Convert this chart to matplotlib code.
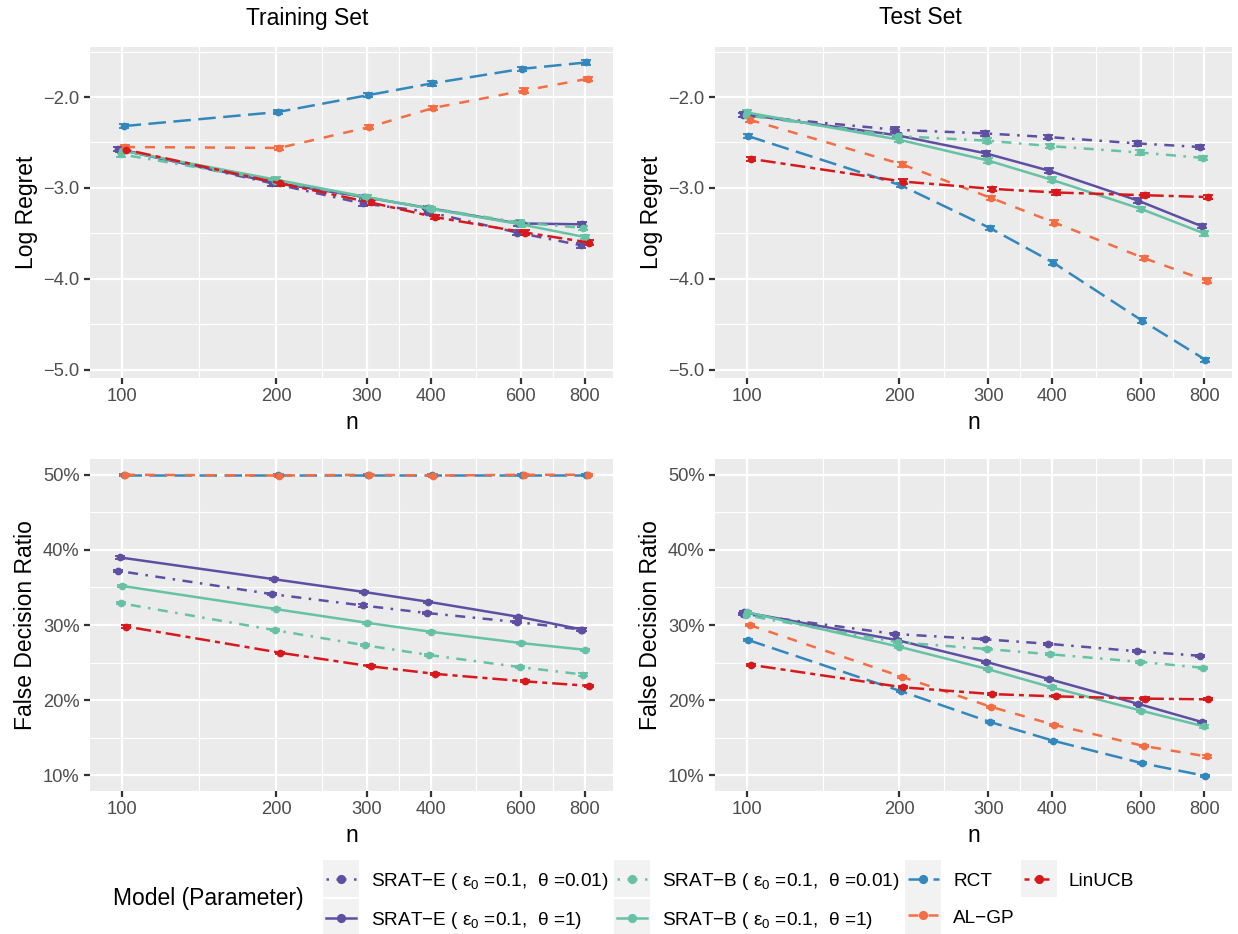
import numpy as np
import matplotlib
matplotlib.use('Agg')
import matplotlib.pyplot as plt
from matplotlib.lines import Line2D
from matplotlib.patches import Rectangle
from matplotlib.ticker import FixedLocator, NullFormatter

plt.rcParams['font.family'] = ['Liberation Sans', 'DejaVu Sans']
plt.rcParams['mathtext.fontset'] = 'custom'
plt.rcParams['mathtext.rm'] = 'Liberation Sans'
plt.rcParams['mathtext.it'] = 'Liberation Sans'

# === DATA === #
n = [100, 200, 300, 400, 600, 800]

labels = [r"SRAT−E ( $ε_0$ =0.1,  θ =0.01)",
          r"SRAT−E ( $ε_0$ =0.1,  θ =1)",
          r"SRAT−B ( $ε_0$ =0.1,  θ =0.01)",
          r"SRAT−B ( $ε_0$ =0.1,  θ =1)",
          "RCT",
          "AL−GP",
          "LinUCB"]
colors = ['#5E4FA2', '#5E4FA2', '#66C2A5', '#66C2A5', '#3288BD', '#F46D43', '#D7191C']
styles = [(0, (1, 3, 4, 3)), '-', (0, (1, 3, 4, 3)), '-', (0, (7, 3)), (0, (4, 4)), (0, (2, 2, 6, 2))]

# order: SRAT-E 0.01, SRAT-E 1, SRAT-B 0.01, SRAT-B 1, RCT, AL-GP, LinUCB
train_regret = [[-2.57, -2.95, -3.17, -3.26, -3.49, -3.63],
                [-2.58, -2.94, -3.10, -3.22, -3.39, -3.40],
                [-2.63, -2.92, -3.10, -3.22, -3.38, -3.44],
                [-2.59, -2.91, -3.10, -3.23, -3.40, -3.54],
                [-2.32, -2.165, -1.98, -1.85, -1.69, -1.62],
                [-2.55, -2.56, -2.33, -2.12, -1.93, -1.80],
                [-2.58, -2.95, -3.16, -3.32, -3.49, -3.60]]

test_regret = [[-2.20, -2.36, -2.40, -2.44, -2.51, -2.55],
               [-2.19, -2.42, -2.62, -2.81, -3.14, -3.42],
               [-2.20, -2.43, -2.48, -2.54, -2.61, -2.67],
               [-2.17, -2.47, -2.70, -2.91, -3.23, -3.50],
               [-2.43, -2.97, -3.44, -3.82, -4.46, -4.89],
               [-2.25, -2.74, -3.11, -3.38, -3.77, -4.02],
               [-2.68, -2.93, -3.01, -3.05, -3.08, -3.10]]

train_fdr = [[37.2, 34.1, 32.6, 31.6, 30.4, 29.4],
             [39.0, 36.1, 34.4, 33.1, 31.1, 29.4],
             [32.9, 29.3, 27.3, 26.0, 24.4, 23.4],
             [35.2, 32.1, 30.3, 29.1, 27.6, 26.7],
             [50.0, 50.0, 50.0, 50.0, 50.0, 50.0],
             [50.0, 49.9, 50.0, 49.9, 50.0, 50.0],
             [29.8, 26.3, 24.5, 23.5, 22.5, 21.9]]

test_fdr = [[31.5, 28.8, 28.1, 27.5, 26.5, 25.9],
            [31.7, 28.0, 25.1, 22.8, 19.5, 17.1],
            [31.3, 27.7, 26.8, 26.1, 25.1, 24.3],
            [31.7, 27.1, 24.1, 21.7, 18.6, 16.5],
            [28.0, 21.2, 17.1, 14.6, 11.6, 9.9],
            [30.0, 23.1, 19.1, 16.7, 13.9, 12.5],
            [24.7, 21.7, 20.8, 20.5, 20.2, 20.1]]

err_regret = 0.025
err_fdr = 0.15

W, H = 1238, 934
DPI = 150


def px_axes(fig, x0, y0, x1, y1):
    return fig.add_axes([x0 / W, 1 - y1 / H, (x1 - x0) / W, (y1 - y0) / H])


def style_axes(ax, yticks, yminor, ylabels, ylim, ylabel):
    ax.set_facecolor('#EBEBEB')
    for s in ax.spines.values():
        s.set_visible(False)
    ax.set_xscale('log')
    ax.set_xlim(86.5, 908)
    brk = np.array(n, dtype=float)
    ax.xaxis.set_major_locator(FixedLocator(brk))
    ax.set_xticklabels([str(v) for v in n])
    ax.xaxis.set_minor_locator(FixedLocator(np.sqrt(brk[:-1] * brk[1:])))
    ax.xaxis.set_minor_formatter(NullFormatter())
    ax.set_ylim(*ylim)
    ax.yaxis.set_major_locator(FixedLocator(yticks))
    ax.set_yticklabels(ylabels)
    ax.yaxis.set_minor_locator(FixedLocator(yminor))
    ax.yaxis.set_minor_formatter(NullFormatter())
    ax.grid(which='major', color='white', lw=1.07)
    ax.grid(which='minor', color='white', lw=0.55)
    ax.set_axisbelow(True)
    ax.tick_params(which='minor', length=0)
    ax.tick_params(which='major', length=2.75, width=1.07, color='#333333',
                   labelcolor='#4D4D4D', labelsize=8.8, pad=2.2)
    ax.set_xlabel('n', fontsize=11, labelpad=2.75)
    ax.set_ylabel(ylabel, fontsize=11, labelpad=2.75)


def draw_panel(ax, values, err):
    for i, ys in enumerate(values):
        xs = np.array(n) * np.exp((i - 3) * 0.006)
        ax.errorbar(xs, ys, yerr=err, color=colors[i], ls=styles[i], lw=1.2,
                    marker='o', ms=2.7, capsize=2.2, elinewidth=0.9, capthick=0.9)


def main():
    fig = plt.figure(figsize=(W / DPI, H / DPI), dpi=DPI)

    reg_ticks = [-5, -4, -3, -2]
    reg_minor = [-4.5, -3.5, -2.5, -1.5]
    reg_labels = ['−5.0', '−4.0', '−3.0', '−2.0']
    fdr_ticks = [10, 20, 30, 40, 50]
    fdr_minor = [15, 25, 35, 45]
    fdr_labels = ['10%', '20%', '30%', '40%', '50%']

    ax1 = px_axes(fig, 90, 47, 613, 378)
    ax2 = px_axes(fig, 715, 47, 1232, 378)
    ax3 = px_axes(fig, 90, 459, 613, 791)
    ax4 = px_axes(fig, 715, 459, 1232, 791)

    for ax, vals in [(ax1, train_regret), (ax2, test_regret)]:
        style_axes(ax, reg_ticks, reg_minor, reg_labels, (-5.09, -1.45), 'Log Regret')
        draw_panel(ax, vals, err_regret)
    for ax, vals in [(ax3, train_fdr), (ax4, test_fdr)]:
        style_axes(ax, fdr_ticks, fdr_minor, fdr_labels, (7.9, 52.1), 'False Decision Ratio')
        draw_panel(ax, vals, err_fdr)

    fig.text(307 / W, 1 - 18 / H, 'Training Set', fontsize=11, ha='center', va='center')
    fig.text(920 / W, 1 - 18 / H, 'Test Set', fontsize=11, ha='center', va='center')

    # legend
    handles = [Line2D([], [], color=colors[i], ls=styles[i], lw=1.2, marker='o', ms=3.4)
               for i in range(len(labels))]
    leg = fig.legend(handles, labels, loc='upper left',
                     bbox_to_anchor=(326 / W, 1 - 871 / H), ncol=4, frameon=False,
                     fontsize=9.1, handlelength=1.6, handleheight=1.0,
                     handletextpad=0.78, columnspacing=0.45, labelspacing=0.95,
                     borderpad=0, borderaxespad=0)
    fig.text(113 / W, 1 - 898 / H, 'Model (Parameter)', fontsize=11, ha='left', va='center')

    fig.canvas.draw()
    renderer = fig.canvas.get_renderer()
    for h in leg.legend_handles:
        bb = h.get_window_extent(renderer)
        cx = (bb.x0 + bb.x1) / 2
        cy = (bb.y0 + bb.y1) / 2
        fig.patches.append(Rectangle(((cx - 18) / W, (cy - 18.8) / H), 36 / W, 37.6 / H,
                                     transform=fig.transFigure, facecolor='#F2F2F2',
                                     edgecolor='none', zorder=0))

    fig.savefig('out.png', dpi=DPI)


if __name__ == '__main__': main()
